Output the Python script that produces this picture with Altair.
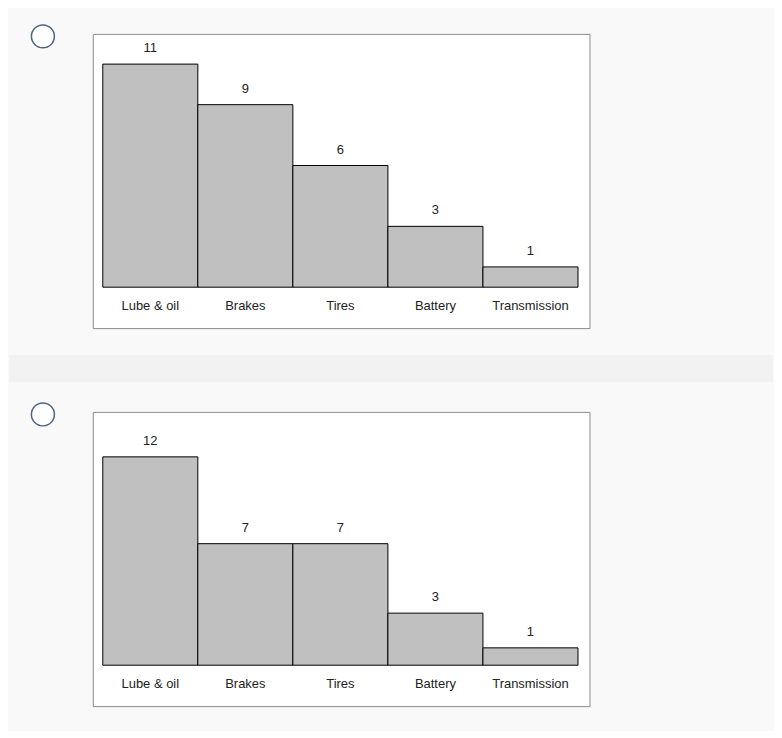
import altair as alt
import pandas as pd

categories = ["Lube & oil", "Brakes", "Tires", "Battery", "Transmission"]
values_a = [11, 9, 6, 3, 1]
values_b = [12, 7, 7, 3, 1]

FONT = "Liberation Sans"
W, H = 498, 295


def panel(values, y_domain, first=False):
    df = pd.DataFrame({"category": categories, "value": values})
    base = alt.Chart(df).encode(
        x=alt.X(
            "category:N",
            sort=categories,
            scale=alt.Scale(paddingInner=0, paddingOuter=0.113, align=0.465),
            axis=alt.Axis(
                title=None, orient="bottom", offset=-41, domain=False,
                ticks=False, tickSize=0, labelPadding=12, labelAngle=0,
                labelFontSize=13, labelColor="#222222", labelFont=FONT,
                grid=False,
            ),
        ),
        y=alt.Y("value:Q", scale=alt.Scale(domain=y_domain, nice=False, zero=False), axis=None),
    )
    bars = base.mark_bar(fill="#c0c0c0", stroke="#000000", strokeWidth=1)
    labels = base.mark_text(dy=-16, baseline="middle", fontSize=13, font=FONT, color="#222222").encode(
        text="value:Q"
    )
    one = alt.Data(values=[{"k": 1}])
    radio = alt.Chart(one).mark_point(
        shape="circle", size=531, filled=False, fill="white", fillOpacity=1,
        stroke="#4d6580", strokeWidth=1.5, opacity=1,
    ).encode(x=alt.value(-50), y=alt.value(2.5))
    layers = []
    if first:
        top_fill = alt.Chart(one).mark_rect(color="#f9f9f9").encode(
            x=alt.value(-84), x2=alt.value(682), y=alt.value(-24), y2=alt.value(-1)
        )
        sep = alt.Chart(one).mark_rect(color="#f2f2f2").encode(
            x=alt.value(-84), x2=alt.value(682), y=alt.value(322), y2=alt.value(349)
        )
        layers += [top_fill, sep]
    else:
        bottom_fill = alt.Chart(one).mark_rect(color="#f9f9f9").encode(
            x=alt.value(-84), x2=alt.value(682), y=alt.value(297), y2=alt.value(318)
        )
        layers += [bottom_fill]
    layers += [bars, labels, radio]
    return alt.layer(*layers).properties(width=W, height=H)


p1 = panel(values_a, [-2.017, 12.49], first=True)
p2 = panel(values_b, [-2.356, 14.59])

chart = alt.vconcat(p1, p2, spacing=84, bounds="flush").properties(
    padding=0, background="#f9f9f9"
).configure_view(stroke="#8c8c8c", strokeWidth=1, fill="white")

chart.save("out.html", embed_options={"renderer": "svg", "actions": False})
